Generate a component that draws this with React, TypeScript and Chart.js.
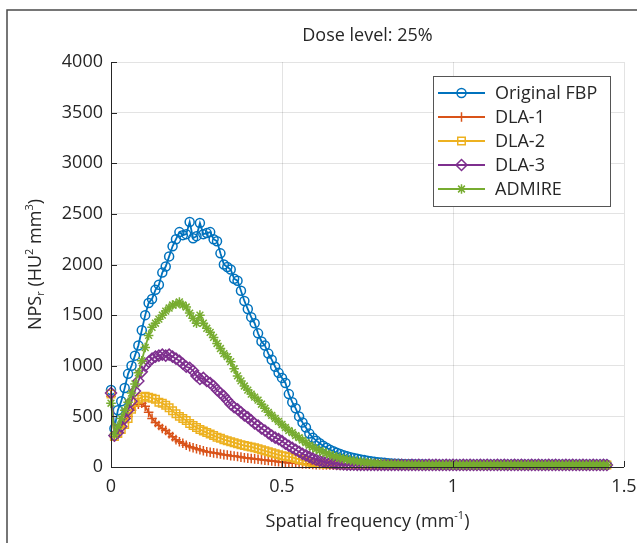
import React, { useEffect, useRef } from 'react';
import { Chart, registerables } from 'chart.js';

Chart.register(...registerables);

// Spatial frequency (mm^-1)
const freq = [
  0, 0.01, 0.02, 0.03, 0.04, 0.05, 0.06, 0.07, 0.08, 0.09,
  0.1, 0.11, 0.12, 0.13, 0.14, 0.15, 0.16, 0.17, 0.18, 0.19,
  0.2, 0.21, 0.22, 0.23, 0.24, 0.25, 0.26, 0.27, 0.28, 0.29,
  0.3, 0.31, 0.32, 0.33, 0.34, 0.35, 0.36, 0.37, 0.38, 0.39,
  0.4, 0.41, 0.42, 0.43, 0.44, 0.45, 0.46, 0.47, 0.48, 0.49,
  0.5, 0.51, 0.52, 0.53, 0.54, 0.55, 0.56, 0.57, 0.58, 0.59,
  0.6, 0.61, 0.62, 0.63, 0.64, 0.65, 0.66, 0.67, 0.68, 0.69,
  0.7, 0.71, 0.72, 0.73, 0.74, 0.75, 0.76, 0.77, 0.78, 0.79,
  0.8, 0.81, 0.82, 0.83, 0.84, 0.85, 0.86, 0.87, 0.88, 0.89,
  0.9, 0.91, 0.92, 0.93, 0.94, 0.95, 0.96, 0.97, 0.98, 0.99,
  1.0, 1.01, 1.02, 1.03, 1.04, 1.05, 1.06, 1.07, 1.08, 1.09,
  1.1, 1.11, 1.12, 1.13, 1.14, 1.15, 1.16, 1.17, 1.18, 1.19,
  1.2, 1.21, 1.22, 1.23, 1.24, 1.25, 1.26, 1.27, 1.28, 1.29,
  1.3, 1.31, 1.32, 1.33, 1.34, 1.35, 1.36, 1.37, 1.38, 1.39,
  1.4, 1.41, 1.42, 1.43, 1.44, 1.45,
];

const originalFBP = [
  760, 380, 560, 650, 780, 920, 1000, 1100, 1200, 1350,
  1500, 1620, 1660, 1750, 1800, 1920, 1980, 2080, 2180, 2250,
  2320, 2290, 2300, 2420, 2260, 2280, 2410, 2300, 2310, 2320,
  2250, 2230, 2110, 2000, 1975, 1950, 1860, 1840, 1740, 1640,
  1560, 1480, 1420, 1320, 1240, 1200, 1120, 1060, 990, 930,
  880, 830, 720, 640, 580, 500, 440, 390, 330, 290,
  260, 235, 210, 190, 170, 155, 140, 128, 116, 106,
  97, 89, 81, 74, 68, 62, 57, 52, 48, 44,
  41, 38, 35, 33, 31, 29, 28, 27, 26, 25,
  25, 24, 24, 23, 23, 23, 22, 22, 22, 22,
  22, 22, 21, 22, 22, 21, 22, 22, 21, 22,
  22, 21, 22, 21, 22, 22, 21, 22, 21, 22,
  21, 22, 22, 21, 22, 21, 22, 21, 22, 22,
  21, 22, 21, 22, 21, 22, 22, 21, 22, 21,
  22, 21, 22, 21, 22, 22,
];

const dla1 = [
  700, 300, 340, 390, 440, 500, 560, 600, 620, 630,
  600, 540, 480, 440, 410, 380, 360, 330, 300, 270,
  250, 235, 215, 200, 190, 180, 170, 160, 150, 145,
  140, 135, 128, 122, 118, 112, 108, 104, 98, 92,
  88, 84, 80, 76, 72, 68, 64, 60, 56, 52,
  48, 45, 42, 40, 37, 34, 31, 29, 27, 25,
  23, 22, 21, 21, 20, 20, 20, 19, 20, 19,
  20, 19, 20, 20, 19, 20, 19, 20, 20, 19,
  20, 20, 19, 20, 19, 20, 20, 19, 20, 20,
  19, 20, 20, 19, 20, 19, 20, 20, 19, 20,
  20, 19, 20, 20, 19, 20, 19, 20, 20, 19,
  20, 20, 19, 20, 19, 20, 20, 19, 20, 20,
  19, 20, 20, 19, 20, 19, 20, 20, 19, 20,
  20, 19, 20, 20, 19, 20, 19, 20, 20, 19,
  20, 19, 20, 20, 19, 20,
];

const dla2 = [
  720, 300, 330, 370, 420, 480, 570, 640, 670, 690,
  700, 690, 680, 670, 640, 630, 610, 585, 555, 525,
  500, 480, 460, 430, 410, 390, 370, 355, 340, 325,
  310, 295, 285, 270, 260, 250, 240, 230, 220, 212,
  205, 198, 190, 180, 170, 160, 150, 140, 130, 120,
  112, 105, 100, 95, 85, 75, 66, 58, 50, 44,
  38, 34, 30, 27, 25, 24, 23, 22, 21, 21,
  20, 21, 20, 20, 21, 20, 20, 21, 20, 20,
  21, 20, 20, 21, 20, 20, 21, 20, 20, 21,
  20, 20, 21, 20, 20, 21, 20, 20, 21, 20,
  20, 21, 20, 20, 21, 20, 20, 21, 20, 20,
  21, 20, 20, 21, 20, 20, 21, 20, 20, 21,
  20, 20, 21, 20, 20, 21, 20, 20, 21, 20,
  20, 21, 20, 20, 21, 20, 20, 21, 20, 20,
  21, 20, 20, 21, 20, 20,
];

const dla3 = [
  730, 310, 340, 400, 480, 560, 650, 750, 850, 940,
  1000, 1040, 1070, 1090, 1100, 1110, 1100, 1110, 1090, 1070,
  1050, 1020, 990, 980, 950, 900, 870, 880, 850, 830,
  800, 760, 730, 700, 660, 620, 590, 570, 540, 510,
  490, 460, 430, 410, 380, 360, 335, 310, 290, 275,
  255, 230, 210, 190, 170, 150, 130, 115, 100, 85,
  72, 62, 53, 46, 40, 35, 31, 28, 26, 24,
  23, 22, 21, 21, 20, 21, 20, 21, 20, 20,
  21, 20, 20, 21, 20, 21, 20, 20, 21, 20,
  21, 20, 20, 21, 20, 21, 20, 20, 21, 20,
  21, 20, 20, 21, 20, 21, 20, 20, 21, 20,
  21, 20, 20, 21, 20, 21, 20, 20, 21, 20,
  21, 20, 20, 21, 20, 21, 20, 20, 21, 20,
  21, 20, 20, 21, 20, 21, 20, 20, 21, 20,
  20, 21, 20, 20, 21, 20,
];

const admire = [
  630, 320, 400, 480, 560, 640, 730, 820, 930, 1050,
  1180, 1300, 1380, 1420, 1460, 1500, 1540, 1570, 1600, 1610,
  1630, 1600, 1580, 1520, 1470, 1420, 1500, 1420, 1370, 1330,
  1280, 1220, 1170, 1120, 1090, 1040, 970, 900, 850, 800,
  760, 720, 690, 660, 620, 580, 540, 510, 480, 450,
  420, 390, 360, 340, 310, 290, 265, 240, 215, 195,
  178, 162, 148, 135, 122, 110, 100, 90, 82, 74,
  67, 61, 56, 51, 47, 43, 40, 37, 35, 33,
  31, 29, 28, 27, 26, 25, 24, 23, 22, 22,
  21, 21, 20, 21, 20, 21, 20, 21, 20, 20,
  21, 20, 21, 20, 20, 21, 20, 21, 20, 20,
  21, 20, 21, 20, 20, 21, 20, 21, 20, 20,
  21, 20, 21, 20, 20, 21, 20, 21, 20, 20,
  21, 20, 21, 20, 20, 21, 20, 21, 20, 20,
  21, 20, 20, 21, 20, 20,
];

const seriesNames = ['Original FBP', 'DLA-1', 'DLA-2', 'DLA-3', 'ADMIRE'];
const seriesValues = [originalFBP, dla1, dla2, dla3, admire];
const seriesColors = ['#0072BD', '#D95319', '#EDB120', '#7E2F8E', '#77AC30'];
const seriesMarkers = ['circle', 'cross', 'rect', 'rectRot', 'star'];
const seriesRadius = [4.5, 4.8, 5.3, 5.5, 4.8];

const xTicks = [0, 0.5, 1, 1.5];
const yTicks = [0, 500, 1000, 1500, 2000, 2500, 3000, 3500, 4000];

const titleText = 'Dose level: 25%';

const FONT = '"Open Sans", "DejaVu Sans", sans-serif';
const TEXT = '#262626';
const FS = 18;

type Run = { t: string; s: number; dy: number };

function drawRuns(ctx: CanvasRenderingContext2D, runs: Run[], cx: number, baseline: number) {
  let total = 0;
  for (const r of runs) {
    ctx.font = `${r.s}px ${FONT}`;
    total += ctx.measureText(r.t).width;
  }
  let x = cx - total / 2;
  ctx.textAlign = 'left';
  ctx.textBaseline = 'alphabetic';
  for (const r of runs) {
    ctx.font = `${r.s}px ${FONT}`;
    ctx.fillText(r.t, x, baseline + r.dy);
    x += ctx.measureText(r.t).width;
  }
}

function drawMarker(ctx: CanvasRenderingContext2D, kind: string, x: number, y: number, r: number) {
  ctx.beginPath();
  if (kind === 'circle') {
    ctx.arc(x, y, r, 0, Math.PI * 2);
  } else if (kind === 'cross') {
    ctx.moveTo(x - r, y); ctx.lineTo(x + r, y);
    ctx.moveTo(x, y - r); ctx.lineTo(x, y + r);
  } else if (kind === 'rect') {
    const h = r * Math.SQRT1_2;
    ctx.rect(x - h, y - h, 2 * h, 2 * h);
  } else if (kind === 'rectRot') {
    ctx.moveTo(x, y - r); ctx.lineTo(x + r, y); ctx.lineTo(x, y + r); ctx.lineTo(x - r, y); ctx.closePath();
  } else if (kind === 'star') {
    ctx.moveTo(x - r, y); ctx.lineTo(x + r, y);
    ctx.moveTo(x, y - r); ctx.lineTo(x, y + r);
    const d = r * Math.SQRT1_2;
    ctx.moveTo(x - d, y - d); ctx.lineTo(x + d, y + d);
    ctx.moveTo(x - d, y + d); ctx.lineTo(x + d, y - d);
  }
  ctx.stroke();
}

const decorPlugin = {
  id: 'decor',
  beforeDraw(chart: any) {
    const ctx = chart.ctx as CanvasRenderingContext2D;
    ctx.save();
    ctx.fillStyle = '#ffffff';
    ctx.fillRect(0, 0, chart.width, chart.height);
    ctx.strokeStyle = '#4a4a4a';
    ctx.lineWidth = 1.5;
    ctx.strokeRect(7, 10, 800, 700);
    ctx.restore();
  },
  afterDatasetsDraw(chart: any) {
    const ctx = chart.ctx as CanvasRenderingContext2D;
    const { left, right, top, bottom } = chart.chartArea;
    const xs = chart.scales.x;
    const ys = chart.scales.y;
    ctx.save();
    // axis lines
    ctx.strokeStyle = TEXT;
    ctx.lineWidth = 1;
    ctx.beginPath();
    ctx.moveTo(Math.round(left) + 0.5, top);
    ctx.lineTo(Math.round(left) + 0.5, Math.round(bottom) + 0.5);
    ctx.lineTo(right, Math.round(bottom) + 0.5);
    ctx.stroke();
    // inward ticks
    ctx.beginPath();
    for (const v of xTicks) {
      const px = Math.round(xs.getPixelForValue(v)) + 0.5;
      ctx.moveTo(px, bottom);
      ctx.lineTo(px, bottom - 6);
    }
    for (const v of yTicks) {
      const py = Math.round(ys.getPixelForValue(v)) + 0.5;
      ctx.moveTo(left, py);
      ctx.lineTo(left + 6, py);
    }
    ctx.stroke();

    // title
    ctx.fillStyle = TEXT;
    const cx = (left + right) / 2;
    drawRuns(ctx, [{ t: titleText, s: FS, dy: 0 }], cx, 41);

    // x axis title
    drawRuns(ctx, [
      { t: 'Spatial frequency (mm', s: FS, dy: 0 },
      { t: '-1', s: 11, dy: -8 },
      { t: ')', s: FS, dy: 0 },
    ], cx, 527);

    // y axis title
    ctx.save();
    ctx.translate(35, (top + bottom) / 2);
    ctx.rotate(-Math.PI / 2);
    drawRuns(ctx, [
      { t: 'NPS', s: FS, dy: 0 },
      { t: 'r', s: 11, dy: 3 },
      { t: ' (HU', s: FS, dy: 0 },
      { t: '2', s: 11, dy: -8 },
      { t: ' mm', s: FS, dy: 0 },
      { t: '3', s: 11, dy: -8 },
      { t: ')', s: FS, dy: 0 },
    ], 0, 6);
    ctx.restore();

    // legend
    const bx = 433.5, by = 76.5, bw = 177, bh = 130;
    ctx.fillStyle = '#ffffff';
    ctx.fillRect(bx, by, bw, bh);
    ctx.strokeStyle = '#555555';
    ctx.lineWidth = 1;
    ctx.strokeRect(bx, by, bw, bh);
    const rowY = [93, 117, 141, 165, 189];
    for (let i = 0; i < seriesNames.length; i++) {
      const y = rowY[i];
      ctx.strokeStyle = seriesColors[i];
      ctx.lineWidth = 1.8;
      ctx.beginPath();
      ctx.moveTo(438, y);
      ctx.lineTo(485, y);
      ctx.stroke();
      ctx.lineWidth = 1.5;
      drawMarker(ctx, seriesMarkers[i], 461.5, y, seriesRadius[i]);
      ctx.fillStyle = TEXT;
      ctx.font = `${FS}px ${FONT}`;
      ctx.textAlign = 'left';
      ctx.textBaseline = 'alphabetic';
      ctx.fillText(seriesNames[i], 495, y + 6);
    }
    ctx.restore();
  },
};

export default function App() {
  const canvasRef = useRef<HTMLCanvasElement | null>(null);

  useEffect(() => {
    document.body.style.margin = '0';
    const canvas = canvasRef.current;
    if (!canvas) return;
    const datasets = seriesNames.map((name, i) => ({
      label: name,
      data: freq.map((x, j) => ({ x, y: seriesValues[i][j] })),
      borderColor: seriesColors[i],
      backgroundColor: 'rgba(0,0,0,0)',
      borderWidth: 1.8,
      pointStyle: seriesMarkers[i] as any,
      pointRadius: seriesRadius[i],
      pointBorderWidth: 1.5,
      pointBorderColor: seriesColors[i],
      pointBackgroundColor: 'rgba(0,0,0,0)',
      tension: 0,
      fill: false,
      clip: false as any,
      order: 5 - i,
    }));

    const chart = new Chart(canvas, {
      type: 'line',
      data: { datasets },
      options: {
        responsive: false,
        animation: false,
        devicePixelRatio: 1,
        layout: { padding: { left: 0, right: 13, top: 62, bottom: 0 } },
        scales: {
          x: {
            type: 'linear',
            min: 0,
            max: 1.5,
            afterBuildTicks: (scale: any) => {
              scale.ticks = xTicks.map((v) => ({ value: v }));
            },
            afterFit: (scale: any) => {
              scale.height = 76;
              scale.paddingLeft = 0;
              scale.paddingRight = 0;
            },
            ticks: {
              color: TEXT,
              font: { family: FONT, size: FS },
              padding: 9,
              maxRotation: 0,
              callback: (v: any) => String(v),
            },
            grid: { color: 'rgba(38,38,38,0.13)', drawTicks: false, lineWidth: 1 },
            border: { display: false },
          },
          y: {
            type: 'linear',
            min: 0,
            max: 4000,
            afterBuildTicks: (scale: any) => {
              scale.ticks = yTicks.map((v) => ({ value: v }));
            },
            afterFit: (scale: any) => {
              scale.width = 111;
              scale.paddingTop = 0;
              scale.paddingBottom = 0;
            },
            ticks: {
              color: TEXT,
              font: { family: FONT, size: FS },
              padding: 8,
              callback: (v: any) => String(v),
            },
            grid: { color: 'rgba(38,38,38,0.13)', drawTicks: false, lineWidth: 1 },
            border: { display: false },
          },
        },
        plugins: {
          legend: { display: false },
          tooltip: { enabled: false },
          title: { display: false },
        },
      },
      plugins: [decorPlugin],
    });
    return () => chart.destroy();
  }, []);

  return (
    <div style={{ position: 'fixed', left: 0, top: 0, width: 637, height: 543 }}>
      <canvas ref={canvasRef} width={637} height={543} style={{ width: 637, height: 543, display: 'block' }} />
    </div>
  );
}
